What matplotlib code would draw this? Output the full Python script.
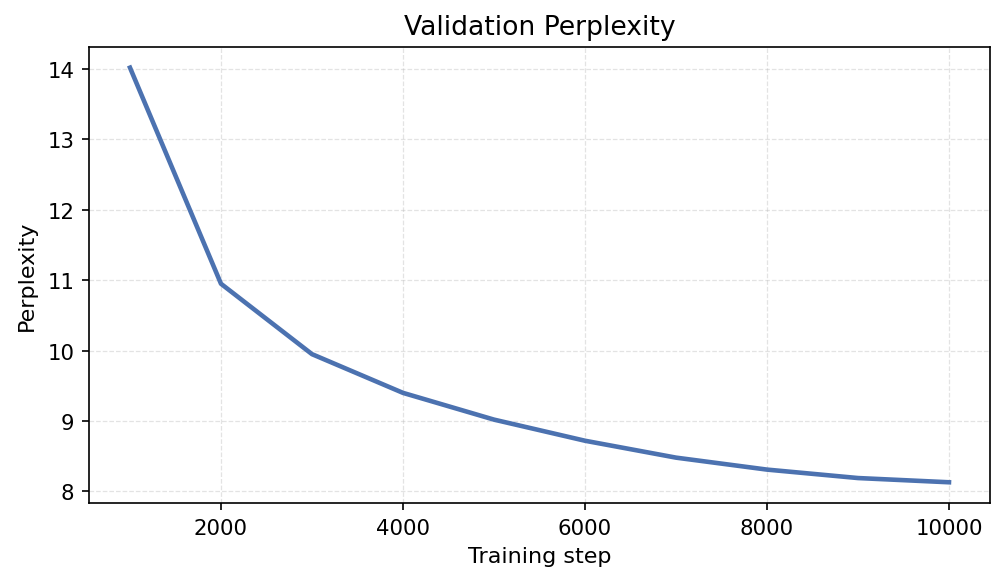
import matplotlib
matplotlib.use('Agg')
import matplotlib.pyplot as plt

steps = [1000, 2000, 3000, 4000, 5000, 6000, 7000, 8000, 9000, 10000]
perplexity = [14.02, 10.95, 9.95, 9.40, 9.02, 8.72, 8.48, 8.31, 8.19, 8.13]

fig, ax = plt.subplots(figsize=(6.7, 3.893), dpi=150)
plt.subplots_adjust(left=0.0886, right=0.985, top=0.918, bottom=0.137)

ax.plot(steps, perplexity, color='#4c72b0', linewidth=2.2)
ax.set_title('Validation Perplexity', fontsize=12.8)
ax.set_xlabel('Training step', fontsize=10.7)
ax.set_ylabel('Perplexity', fontsize=10.7, labelpad=5)
ax.tick_params(labelsize=10.2)
ax.grid(True, linestyle='--', linewidth=0.6, alpha=0.35)

plt.savefig('out.png', dpi=150)
plt.close()
